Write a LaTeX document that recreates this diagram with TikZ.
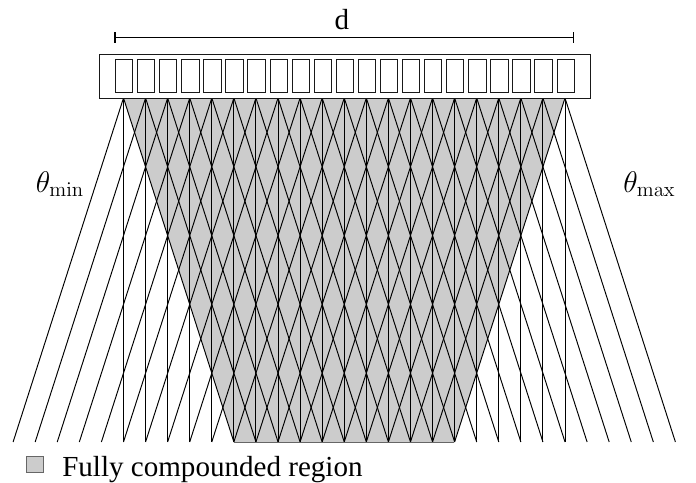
\documentclass[tikz,border=0pt]{standalone}
\usepackage{graphicx}
\usepackage[no-math]{fontspec}
\setmainfont{Liberation Serif}
\definecolor{regiongray}{gray}{0.8}
\tikzset{
  ray/.style={line width=0.72pt,black},
  elementbox/.style={draw=black!90,line width=0.72pt,fill=white},
  lab/.style={inner sep=0pt,font=\fontsize{21.8}{26}\selectfont},
  anglelab/.style={inner sep=0pt,anchor=base west,font=\fontsize{21.8}{26}\selectfont},
}
\begin{document}
\begin{tikzpicture}[x=0.75pt,y=-0.75pt]
\useasboundingbox (0,0) rectangle (696,482);
% fully compounded region
\coordinate (tl) at (123.5,98);
\coordinate (tr) at (565,98);
\coordinate (br) at (454.4,442);
\coordinate (bl) at (234,442);
\fill[regiongray] (tl) -- (tr) -- (br) -- (bl) -- cycle;
% rays
\foreach \i in {0,...,20}{
  \pgfmathsetmacro{\xo}{123.5+22.075*\i}
  \coordinate (o\i) at (\xo,98);
  \coordinate (l\i) at (\xo-110.4,442);
  \coordinate (v\i) at (\xo,442);
  \coordinate (r\i) at (\xo+110.4,442);
  \draw[ray] (o\i) -- (l\i);
  \draw[ray] (o\i) -- (v\i);
  \draw[ray] (o\i) -- (r\i);
}
\draw[ray,black!60] (bl) -- (br);
% array
\node[elementbox,minimum width=491.5*0.75pt,minimum height=44*0.75pt,inner sep=0pt,anchor=north west] (array) at (98.5,54) {};
\foreach \i in {0,...,20}{
  \pgfmathsetmacro{\xb}{115+22.075*\i}
  \node[elementbox,minimum width=17.3*0.75pt,minimum height=33.4*0.75pt,inner sep=0pt,anchor=north west] (e\i) at (\xb,59) {};
}
% aperture
\coordinate (dl) at (115,37.5);
\coordinate (dr) at (573.5,37.5);
\draw[line width=0.85pt] (dl) -- (dr);
\draw[line width=0.85pt] ([yshift=3.9pt]dl) -- ([yshift=-3.9pt]dl);
\draw[line width=0.85pt] ([yshift=3.9pt]dr) -- ([yshift=-3.9pt]dr);
\node[lab,anchor=base] (d) at (342,29) {d};
% angle labels
\node[anglelab] (tmin) at (35.5,192) {\scalebox{1.08}{$\theta_{\min}$}};
\node[anglelab] (tmax) at (623,192) {\scalebox{1.08}{$\theta_{\max}$}};
% legend
\node[draw=black!60,line width=0.6pt,fill=regiongray,minimum size=16.5*0.75pt,inner sep=0pt] (key) at (35,464.5) {};
\node[lab,anchor=base west] (keytext) at (62,476.5) {Fully compounded region};
\end{tikzpicture}
\end{document}
